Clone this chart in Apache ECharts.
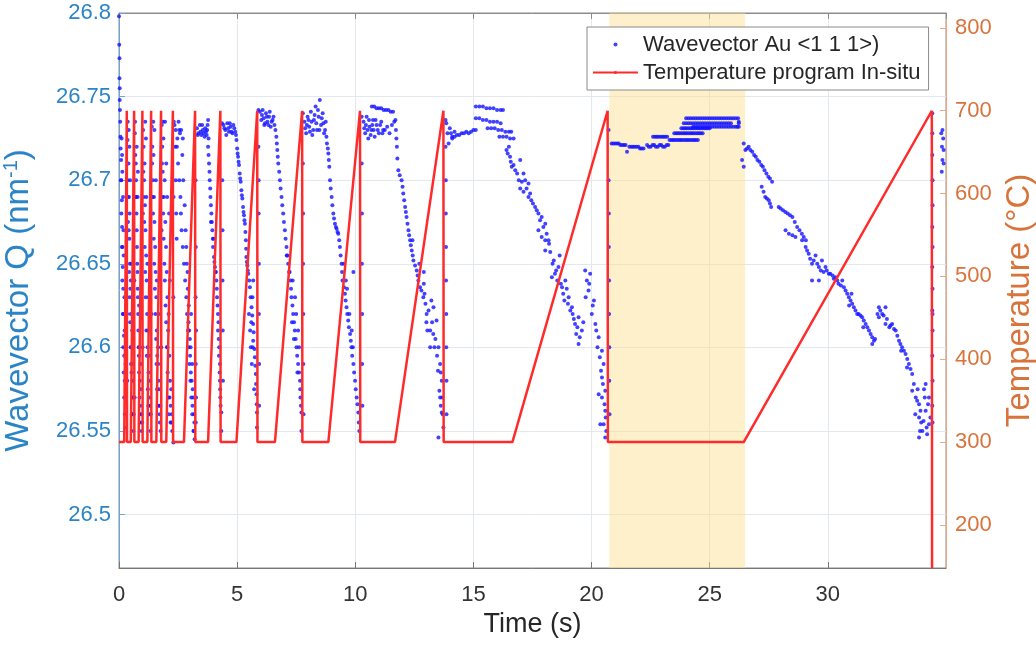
<!DOCTYPE html>
<html><head><meta charset="utf-8">
<script src="https://cdn.jsdelivr.net/npm/echarts@6/dist/echarts.min.js"></script>
<style>html,body{margin:0;padding:0;background:#fff}#c{width:1036px;height:645px}</style>
</head><body><div id="c"></div>
<script>
// ---------- tick labels ----------
const qTicks = [26.5, 26.55, 26.6, 26.65, 26.7, 26.75, 26.8];
const tempTicks = [200, 300, 400, 500, 600, 700, 800];
const shadeRange = [20.75, 26.5];

// ---------- temperature program (time s, °C) ----------
const tempTime = [0,0.22,0.33, 0.34,0.5,0.64, 0.65,0.83,0.99, 1.0,1.2,1.36, 1.37,1.58,1.78, 1.79,2.0,2.28,
  2.29,2.75,3.22, 3.23,3.77,4.29, 4.30,4.97,5.85, 5.86,6.6,7.75, 7.76,8.86,10.2, 10.21,11.68,13.73,
  13.74,16.65,20.68, 20.69,26.44,34.4, 34.41];
const tempValue = [300,300,700, 300,300,700, 300,300,700, 300,300,700, 300,300,700, 300,300,700,
  300,300,700, 300,300,700, 300,300,700, 300,300,700, 300,300,700, 300,300,700,
  300,300,700, 300,300,700, 148];

// ---------- wavevector Q points [time s, Q nm^-1] read per heating cycle ----------
const qCycleA = [[0.00,26.798],[0.01,26.781],[0.02,26.773],[0.02,26.761],[0.03,26.755],[0.03,26.748],[0.04,26.742],[0.05,26.735],[0.06,26.726],[0.07,26.719],[0.09,26.712],[0.10,26.700],[0.12,26.688],[0.13,26.672],[0.15,26.660],[0.16,26.648],[0.18,26.635],[0.19,26.620],[0.21,26.607],[0.22,26.595],[0.24,26.580],[0.26,26.570],[0.28,26.560],[0.30,26.552],[0.11,26.725],[0.17,26.690],[0.23,26.630],[0.27,26.600],[0.20,26.655],[0.14,26.705],
  [0.08,26.700],[0.10,26.680],[0.12,26.660],[0.14,26.640],[0.16,26.620],[0.18,26.600],[0.20,26.585],[0.22,26.570],[0.25,26.560],[0.29,26.575],[0.13,26.715],[0.19,26.670],[0.24,26.610],[0.28,26.590]];
const qCycleB = [[0.34,26.620],[0.35,26.580],[0.36,26.724],[0.37,26.700],[0.38,26.675],[0.40,26.710],[0.42,26.690],[0.44,26.665],[0.45,26.680],[0.46,26.650],[0.48,26.635],[0.50,26.620],[0.50,26.640],[0.52,26.600],[0.53,26.585],[0.55,26.570],[0.57,26.580],[0.59,26.560],[0.61,26.550],[0.56,26.610],[0.41,26.730],[0.47,26.700],
  [0.37,26.735],[0.39,26.690],[0.41,26.670],[0.43,26.645],[0.45,26.630],[0.47,26.615],[0.49,26.600],[0.51,26.590],[0.54,26.560],[0.58,26.590],[0.60,26.570],[0.62,26.560],[0.44,26.720],[0.52,26.650]];
const qCycleC = [[0.65,26.640],[0.66,26.570],[0.67,26.728],[0.69,26.715],[0.70,26.690],[0.72,26.700],[0.74,26.680],[0.75,26.720],[0.76,26.660],[0.78,26.645],[0.80,26.630],[0.82,26.610],[0.84,26.595],[0.85,26.625],[0.86,26.600],[0.88,26.580],[0.90,26.565],[0.93,26.555],[0.96,26.550],[0.79,26.690],[0.91,26.590],
  [0.68,26.735],[0.71,26.710],[0.73,26.690],[0.75,26.670],[0.77,26.650],[0.79,26.635],[0.81,26.620],[0.83,26.600],[0.85,26.585],[0.87,26.570],[0.89,26.560],[0.92,26.575],[0.95,26.560],[0.98,26.555],[0.80,26.705]];
const qCycleD = [[1.00,26.600],[1.01,26.680],[1.02,26.730],[1.04,26.720],[1.06,26.700],[1.08,26.710],[1.10,26.685],[1.12,26.670],[1.14,26.725],[1.15,26.655],[1.17,26.640],[1.19,26.620],[1.20,26.650],[1.21,26.600],[1.23,26.610],[1.25,26.585],[1.28,26.570],[1.30,26.560],[1.33,26.550],[1.26,26.630],[1.11,26.735],
  [1.03,26.705],[1.05,26.690],[1.07,26.675],[1.09,26.660],[1.11,26.645],[1.13,26.630],[1.16,26.610],[1.18,26.595],[1.22,26.575],[1.24,26.565],[1.27,26.595],[1.29,26.580],[1.31,26.565],[1.34,26.560],[1.16,26.690]];
const qCycleE = [[1.37,26.620],[1.38,26.690],[1.39,26.732],[1.41,26.720],[1.43,26.700],[1.46,26.715],[1.48,26.690],[1.50,26.675],[1.50,26.730],[1.53,26.660],[1.55,26.645],[1.58,26.630],[1.60,26.610],[1.60,26.640],[1.62,26.595],[1.65,26.600],[1.67,26.580],[1.70,26.565],[1.73,26.555],[1.76,26.550],[1.56,26.700],[1.68,26.620],
  [1.40,26.710],[1.42,26.690],[1.44,26.680],[1.47,26.665],[1.49,26.650],[1.52,26.635],[1.54,26.620],[1.57,26.605],[1.59,26.590],[1.61,26.575],[1.64,26.565],[1.66,26.590],[1.69,26.575],[1.72,26.560],[1.75,26.565],[1.45,26.735]];
const qCycleF = [[1.79,26.600],[1.80,26.670],[1.81,26.733],[1.83,26.720],[1.85,26.705],[1.88,26.725],[1.90,26.690],[1.93,26.700],[1.95,26.735],[1.96,26.675],[1.99,26.660],[2.02,26.645],[2.05,26.630],[2.05,26.600],[2.08,26.610],[2.10,26.620],[2.13,26.595],[2.15,26.640],[2.16,26.580],[2.19,26.565],[2.22,26.555],[2.25,26.550],[2.00,26.710],[2.12,26.680],
  [1.82,26.710],[1.84,26.690],[1.87,26.680],[1.89,26.665],[1.92,26.650],[1.94,26.640],[1.97,26.625],[2.00,26.615],[2.03,26.600],[2.06,26.585],[2.09,26.570],[2.11,26.560],[2.14,26.570],[2.18,26.555],[2.21,26.575],[2.24,26.560],[1.86,26.735],[2.04,26.690]];
const qCycleG = [[2.30,26.543],[2.30,26.630],[2.31,26.690],[2.32,26.735],[2.35,26.733],[2.38,26.720],[2.40,26.730],[2.40,26.700],[2.42,26.680],[2.44,26.665],[2.45,26.720],[2.50,26.710],[2.55,26.700],[2.60,26.690],[2.62,26.680],[2.65,26.670],[2.70,26.660],[2.75,26.650],[2.80,26.640],[2.85,26.630],[2.85,26.660],[2.88,26.620],[2.90,26.645],[2.92,26.610],[2.95,26.600],[2.95,26.625],[2.98,26.590],[3.00,26.605],[3.02,26.580],[3.05,26.620],[3.06,26.570],[3.10,26.560],[3.10,26.590],[3.12,26.575],[3.15,26.550],[3.18,26.560],[3.20,26.545],[2.55,26.730],[2.70,26.725],
  [2.47,26.725],[2.52,26.735],[2.58,26.728],[2.63,26.730],[2.68,26.715],[2.72,26.700],[2.78,26.685],[2.82,26.670],[2.87,26.650],[2.91,26.635],[2.94,26.615],[2.97,26.610],[3.01,26.595],[3.04,26.585],[3.08,26.580],[3.11,26.565],[3.14,26.570],[3.17,26.550],[3.19,26.555],[3.03,26.600]];
const qCycleH = [[3.24,26.700],[3.25,26.660],[3.24,26.630],[3.26,26.610],[3.25,26.590],[3.26,26.570],[3.25,26.555],[3.30,26.731],[3.36,26.728],[3.42,26.733],[3.48,26.727],[3.55,26.730],[3.62,26.726],[3.68,26.729],[3.73,26.730],[3.77,26.736],[3.77,26.720],[3.81,26.710],[3.84,26.700],[3.87,26.690],[3.91,26.680],[3.95,26.670],[3.98,26.660],[4.02,26.654],[4.06,26.648],[4.12,26.640],[4.15,26.630],[4.19,26.620],[4.19,26.610],[4.24,26.600],[4.27,26.590],[4.27,26.580],[4.29,26.570],[3.79,26.715],[3.89,26.685],[4.00,26.665],[4.10,26.645],[4.22,26.605],
  [3.75,26.733],[3.79,26.725],[3.83,26.705],[3.86,26.695],[3.89,26.675],[3.93,26.675],[3.97,26.665],[4.04,26.651],[4.08,26.645],[4.14,26.635],[4.17,26.625],[4.21,26.615],[4.23,26.595],[4.26,26.585],[4.28,26.575],[4.30,26.565],[3.33,26.727],[3.45,26.729],[3.52,26.733],[3.58,26.728],[3.65,26.731],[3.71,26.727]];
const qCycleI = [[4.33,26.561],[4.33,26.550],[4.36,26.734],[4.37,26.700],[4.38,26.670],[4.38,26.640],[4.39,26.610],[4.40,26.580],[4.42,26.733],[4.50,26.730],[4.58,26.734],[4.65,26.729],[4.72,26.732],[4.80,26.728],[4.88,26.731],[4.95,26.727],[4.97,26.724],[5.00,26.719],[5.04,26.714],[5.08,26.709],[5.11,26.704],[5.15,26.699],[5.18,26.694],[5.22,26.689],[5.25,26.684],[5.29,26.679],[5.33,26.674],[5.37,26.664],[5.39,26.654],[5.43,26.649],[5.47,26.644],[5.54,26.636],[5.61,26.624],[5.68,26.614],[5.68,26.604],[5.75,26.594],[5.79,26.584],[5.82,26.572],[5.84,26.561],[5.84,26.552],[5.50,26.620],[5.58,26.600],[5.62,26.590],[5.65,26.630],[5.72,26.575],[5.55,26.610],[5.68,26.640],
  [4.46,26.731],[4.54,26.727],[4.62,26.731],[4.69,26.734],[4.76,26.729],[4.84,26.733],[4.92,26.729],[5.02,26.716],[5.06,26.711],[5.13,26.701],[5.20,26.691],[5.27,26.681],[5.31,26.676],[5.35,26.669],[5.38,26.659],[5.41,26.651],[5.45,26.646],[5.51,26.640],[5.57,26.630],[5.64,26.619],[5.70,26.609],[5.73,26.599],[5.77,26.589],[5.80,26.578],[5.83,26.566],[5.60,26.615],[5.66,26.600]];
const qCycleJ = [[5.90,26.742],[5.90,26.720],[5.91,26.700],[5.91,26.680],[5.92,26.650],[5.92,26.620],[5.93,26.590],[5.93,26.565],[5.96,26.741],[6.02,26.736],[6.08,26.742],[6.15,26.733],[6.22,26.740],[6.28,26.735],[6.35,26.738],[6.42,26.732],[6.50,26.736],[6.58,26.733],[6.66,26.726],[6.70,26.718],[6.74,26.710],[6.81,26.700],[6.88,26.690],[6.95,26.680],[7.02,26.670],[7.09,26.660],[7.16,26.650],[7.26,26.640],[7.30,26.630],[7.37,26.620],[7.44,26.610],[7.51,26.600],[7.58,26.590],[7.66,26.580],[7.68,26.570],[7.72,26.561],[7.72,26.550],[7.20,26.645],[7.32,26.615],[7.40,26.605],[7.45,26.630],[7.55,26.585],[7.62,26.600],[7.10,26.655],
  [6.05,26.739],[6.12,26.737],[6.18,26.734],[6.25,26.738],[6.32,26.733],[6.38,26.741],[6.46,26.735],[6.54,26.738],[6.62,26.730],[6.68,26.722],[6.72,26.714],[6.78,26.705],[6.84,26.695],[6.91,26.685],[6.98,26.675],[7.05,26.665],[7.12,26.655],[7.22,26.645],[7.28,26.635],[7.34,26.625],[7.41,26.615],[7.48,26.605],[7.54,26.595],[7.62,26.585],[7.67,26.575],[7.70,26.565],[7.35,26.640],[7.50,26.620],[7.58,26.610]];
const qCycleK = [[7.78,26.740],[7.78,26.710],[7.79,26.680],[7.79,26.650],[7.80,26.620],[7.80,26.590],[7.81,26.560],[7.85,26.735],[7.92,26.728],[7.98,26.738],[8.05,26.732],[8.12,26.741],[8.18,26.727],[8.25,26.736],[8.32,26.744],[8.38,26.730],[8.45,26.738],[8.50,26.748],[8.55,26.733],[8.62,26.740],[8.68,26.728],[8.75,26.735],[8.80,26.722],[8.86,26.716],[8.90,26.708],[8.93,26.700],[9.00,26.690],[9.07,26.680],[9.14,26.674],[9.21,26.671],[9.28,26.668],[9.35,26.660],[9.42,26.650],[9.46,26.640],[9.50,26.650],[9.56,26.632],[9.60,26.640],[9.63,26.624],[9.70,26.616],[9.75,26.620],[9.78,26.608],[9.84,26.600],[9.90,26.600],[9.92,26.590],[9.92,26.645],[9.99,26.580],[10.06,26.570],[10.13,26.561],[10.17,26.550],
  [7.88,26.731],[7.95,26.733],[8.02,26.736],[8.08,26.729],[8.15,26.735],[8.22,26.730],[8.28,26.739],[8.35,26.734],[8.42,26.742],[8.48,26.730],[8.58,26.737],[8.65,26.734],[8.72,26.730],[8.78,26.726],[8.84,26.719],[8.88,26.712],[8.96,26.695],[9.03,26.685],[9.10,26.677],[9.18,26.672],[9.25,26.669],[9.32,26.664],[9.38,26.655],[9.44,26.645],[9.52,26.636],[9.59,26.628],[9.66,26.620],[9.73,26.612],[9.81,26.604],[9.87,26.595],[9.95,26.585],[10.02,26.575],[10.09,26.566],[10.15,26.555],[9.65,26.635],[9.85,26.610]];
const qCycleL = [[10.27,26.738],[10.27,26.710],[10.28,26.680],[10.28,26.650],[10.29,26.620],[10.29,26.590],[10.30,26.565],[10.35,26.735],[10.42,26.728],[10.48,26.738],[10.55,26.725],[10.60,26.732],[10.68,26.730],[10.75,26.736],[10.82,26.726],[10.90,26.733],[11.00,26.728],[11.10,26.735],[11.18,26.730],[10.70,26.744],[10.80,26.744],[10.90,26.743],[11.00,26.743],[11.10,26.743],[11.20,26.742],[11.30,26.742],[11.40,26.742],[11.50,26.741],[11.60,26.741],[11.70,26.736],[11.72,26.730],[11.74,26.725],[11.76,26.720],[11.82,26.706],[11.96,26.700],[12.03,26.692],[12.11,26.684],[12.17,26.678],[12.25,26.670],[12.32,26.664],[12.39,26.658],[12.42,26.664],[12.46,26.652],[12.60,26.646],[12.67,26.640],[12.71,26.650],[12.74,26.636],[12.88,26.630],[12.90,26.645],[12.90,26.638],[12.97,26.626],[13.01,26.615],[13.02,26.620],[13.17,26.610],[13.17,26.600],[13.22,26.628],[13.31,26.624],[13.39,26.605],[13.44,26.616],[13.50,26.586],[13.52,26.600],[13.56,26.574],[13.59,26.590],[13.59,26.570],[13.62,26.565],[13.66,26.580],[13.66,26.561],[13.52,26.546],[13.73,26.552],
  [10.38,26.731],[10.45,26.733],[10.52,26.730],[10.58,26.736],[10.65,26.727],[10.72,26.733],[10.78,26.730],[10.86,26.736],[10.95,26.730],[11.05,26.733],[11.15,26.728],[11.25,26.730],[11.35,26.732],[11.45,26.728],[11.55,26.733],[11.65,26.735],[11.78,26.713],[11.88,26.703],[12.00,26.696],[12.07,26.688],[12.14,26.681],[12.21,26.674],[12.28,26.667],[12.35,26.661],[12.43,26.655],[12.53,26.649],[12.64,26.643],[12.80,26.634],[12.93,26.632],[13.05,26.610],[13.10,26.622],[13.25,26.615],[13.35,26.600],[13.46,26.595],[13.62,26.585],[13.68,26.570],[13.70,26.560],[13.30,26.608]];
const qCycleM = [[13.82,26.736],[13.82,26.720],[13.83,26.700],[13.83,26.680],[13.84,26.660],[13.84,26.640],[13.85,26.620],[13.85,26.600],[13.86,26.580],[13.86,26.560],[13.85,26.734],[13.90,26.728],[13.95,26.722],[14.00,26.731],[14.10,26.725],[14.20,26.729],[14.10,26.726],[14.30,26.727],[14.50,26.728],[14.70,26.729],[14.90,26.729],[15.10,26.730],
  [15.10,26.744],[15.25,26.744],[15.40,26.744],[15.55,26.743],[15.70,26.743],[15.85,26.743],[16.00,26.742],[16.15,26.742],[16.25,26.742],
  [15.10,26.737],[15.25,26.737],[15.40,26.736],[15.55,26.736],[15.70,26.735],[15.85,26.735],[16.00,26.735],[16.15,26.734],
  [15.60,26.731],[15.75,26.731],[15.90,26.731],[16.05,26.730],[16.20,26.730],[16.35,26.729],[16.50,26.729],[16.60,26.729],
  [16.10,26.726],[16.25,26.726],[16.40,26.726],[16.55,26.725],[16.70,26.725],
  [16.40,26.718],[16.55,26.714],[16.62,26.708],[16.77,26.706],[16.98,26.712],[17.12,26.704],[17.19,26.700],[17.33,26.698],[16.98,26.695],[17.12,26.693],[17.33,26.690],[17.45,26.688],[17.61,26.684],[17.75,26.680],[17.89,26.678],[18.04,26.674],[17.75,26.670],[17.89,26.666],[18.04,26.664],[18.18,26.664],[18.04,26.658],[18.20,26.662],[18.32,26.642],[18.40,26.652],[18.50,26.646],[18.60,26.648],[18.65,26.655],[18.70,26.638],[18.80,26.632],[18.89,26.640],[18.95,26.635],[19.00,26.626],[19.03,26.630],[19.17,26.624],[19.20,26.620],[19.30,26.614],[19.35,26.608],[19.45,26.618],[19.45,26.602],[19.59,26.610],[19.73,26.646],[19.80,26.640],[19.94,26.644],[19.87,26.634],[20.01,26.620],[20.10,26.628],[20.16,26.614],[20.30,26.606],[20.44,26.598],[20.51,26.590],[20.44,26.582],[20.58,26.574],[20.44,26.570],[20.58,26.562],[20.51,26.554],[20.58,26.546],[20.37,26.554],[20.30,26.572],
  [16.45,26.716],[16.50,26.720],[16.58,26.711],[16.70,26.709],[16.85,26.704],[16.92,26.700],[17.05,26.699],[17.25,26.695],[17.40,26.692],[17.52,26.686],[17.68,26.682],[17.82,26.676],[17.96,26.672],[18.10,26.668],[18.25,26.657],[18.35,26.650],[18.45,26.644],[18.55,26.640],[18.75,26.636],[18.85,26.628],[19.10,26.622],[19.25,26.617],[19.40,26.612],[19.50,26.606],[19.65,26.615],[19.75,26.630],[19.90,26.638],[20.05,26.625],[20.20,26.610],[20.25,26.600],[20.35,26.594],[20.40,26.586],[20.48,26.578],[20.55,26.566],[20.60,26.558],[20.62,26.550],[14.05,26.728],[14.20,26.726],[14.40,26.727],[14.60,26.728],[14.80,26.728],[15.00,26.730]];
const qCycleN = [[20.72,26.730],[20.72,26.700],[20.73,26.680],[20.73,26.660],[20.74,26.640],[20.74,26.620],[20.75,26.600],[20.75,26.580],[20.76,26.560],
  [20.85,26.722],[21.00,26.722],[21.15,26.722],[21.30,26.721],[21.44,26.721],
  [21.50,26.717],[21.60,26.720],[21.75,26.720],[21.90,26.720],[22.05,26.719],[22.20,26.719],
  [22.35,26.721],[22.50,26.720],[22.65,26.721],[22.80,26.720],[22.95,26.721],[23.10,26.720],[23.25,26.721],
  [22.60,26.726],[22.75,26.726],[22.90,26.726],[23.05,26.726],[23.20,26.726],
  [23.30,26.724],[23.45,26.724],[23.60,26.724],[23.75,26.724],[23.90,26.724],[24.05,26.724],[24.20,26.724],[24.35,26.724],[24.50,26.724],
  [23.50,26.728],[23.65,26.728],[23.80,26.728],[23.95,26.728],[24.10,26.728],[24.25,26.728],[24.40,26.728],[24.55,26.728],[24.70,26.728],
  [23.80,26.731],[23.95,26.731],[24.10,26.731],[24.25,26.731],[24.40,26.731],[24.55,26.731],[24.70,26.731],[24.85,26.731],[25.00,26.731],
  [23.90,26.734],[24.10,26.734],[24.30,26.734],[24.50,26.734],[24.70,26.734],[24.90,26.734],[25.10,26.734],[25.30,26.734],[25.50,26.734],[25.70,26.734],[25.90,26.734],
  [24.00,26.737],[24.20,26.737],[24.40,26.737],[24.60,26.737],[24.80,26.737],[25.00,26.737],[25.20,26.737],[25.40,26.737],[25.60,26.737],[25.80,26.737],[26.00,26.737],[26.20,26.737],
  [24.30,26.732],[24.50,26.732],[24.70,26.732],[24.90,26.732],[25.10,26.732],[25.30,26.732],[25.50,26.732],[25.70,26.732],[25.90,26.732],[26.10,26.732],[26.23,26.732],
  [26.23,26.735],[26.23,26.734],
  [20.92,26.722],[21.08,26.722],[21.22,26.721],[21.37,26.721],[21.68,26.720],[21.82,26.720],[21.98,26.720],[22.12,26.719],[22.42,26.720],[22.58,26.721],[22.72,26.720],[22.88,26.721],[23.02,26.720],[23.18,26.721],[22.68,26.726],[22.82,26.726],[22.98,26.726],[23.12,26.726],[23.38,26.724],[23.52,26.724],[23.68,26.724],[23.82,26.724],[23.98,26.724],[24.12,26.724],[24.28,26.724],[24.42,26.724],[23.58,26.728],[23.72,26.728],[23.88,26.728],[24.02,26.728],[24.18,26.728],[24.32,26.728],[24.48,26.728],[24.62,26.728],[23.88,26.731],[24.02,26.731],[24.18,26.731],[24.32,26.731],[24.48,26.731],[24.62,26.731],[24.78,26.731],[24.92,26.731],[24.00,26.734],[24.20,26.734],[24.40,26.734],[24.60,26.734],[24.80,26.734],[25.00,26.734],[25.20,26.734],[25.40,26.734],[25.60,26.734],[25.80,26.734],[24.10,26.737],[24.30,26.737],[24.50,26.737],[24.70,26.737],[24.90,26.737],[25.10,26.737],[25.30,26.737],[25.50,26.737],[25.70,26.737],[25.90,26.737],[26.10,26.737],[24.40,26.732],[24.60,26.732],[24.80,26.732],[25.00,26.732],[25.20,26.732],[25.40,26.732],[25.60,26.732],[25.80,26.732],[26.00,26.732],[26.17,26.732]];
const qCycleO = [[26.37,26.712],[26.44,26.722],[26.44,26.708],[26.51,26.718],[26.65,26.720],[26.80,26.717],[26.95,26.714],[27.10,26.711],[27.25,26.708],[27.40,26.704],[27.55,26.701],[27.64,26.699],[27.20,26.696],[27.35,26.690],[27.50,26.688],[27.60,26.684],[27.92,26.684],[28.10,26.682],[28.30,26.680],[28.50,26.678],[28.70,26.672],[28.90,26.668],[29.07,26.664],
  [28.21,26.670],[28.63,26.666],[28.91,26.664],[29.06,26.660],[29.19,26.656],[29.48,26.655],[29.33,26.650],[29.62,26.648],[29.90,26.648],[30.04,26.644],[30.33,26.642],[30.61,26.640],[29.33,26.640],[29.62,26.640],[30.75,26.634],[30.89,26.630],[31.03,26.626],[31.17,26.622],[31.45,26.618],[31.60,26.614],[31.74,26.610],[31.88,26.606],[31.88,26.602],[32.16,26.624],[32.44,26.624],[32.16,26.618],[32.44,26.614],[32.72,26.614],[32.87,26.610],[33.01,26.604],[33.14,26.600],[33.29,26.596],[33.43,26.590],[33.57,26.584],[33.57,26.574],[33.72,26.570],[33.86,26.566],[33.86,26.558],[34.00,26.550],[34.14,26.578],[34.14,26.562],[34.28,26.554],[34.28,26.570],[33.86,26.546],
  [29.75,26.652],[30.20,26.643],[30.45,26.638],[31.30,26.620],[31.00,26.632],[30.90,26.625],[31.50,26.612],[32.00,26.605],[32.30,26.620],[32.60,26.612],[33.10,26.598],[33.35,26.588],[33.70,26.560],[33.95,26.555],[34.10,26.570],[34.20,26.548],[33.80,26.575],
  [26.58,26.719],[26.72,26.718],[26.88,26.715],[27.02,26.712],[27.18,26.709],[27.32,26.706],[27.48,26.702],[27.28,26.693],[27.42,26.689],[27.55,26.686],[28.00,26.683],[28.20,26.681],[28.40,26.679],[28.60,26.675],[28.80,26.670],[28.98,26.666],[28.35,26.668],[28.50,26.667],[29.12,26.658],[29.25,26.653],[29.40,26.652],[29.55,26.650],[29.70,26.646],[29.82,26.645],[29.95,26.646],[30.10,26.644],[30.25,26.641],[30.40,26.640],[30.55,26.637],[30.68,26.636],[30.82,26.632],[30.96,26.628],[31.10,26.624],[31.24,26.620],[31.38,26.619],[31.52,26.616],[31.67,26.612],[31.81,26.608],[31.95,26.604],[32.10,26.620],[32.22,26.622],[32.36,26.619],[32.50,26.617],[32.65,26.613],[32.80,26.611],[32.94,26.607],[33.07,26.602],[33.22,26.598],[33.36,26.593],[33.50,26.587],[33.64,26.578],[33.78,26.568],[33.92,26.562],[34.05,26.556],[34.18,26.552],[34.24,26.566],[34.34,26.558],[33.90,26.550],[34.07,26.575]];
const qCycleP = [[34.42,26.728],[34.42,26.715],[34.43,26.700],[34.43,26.685],[34.42,26.672],[34.43,26.660],[34.42,26.648],[34.43,26.635],[34.42,26.622],[34.43,26.610],[34.42,26.595],[34.43,26.580],[34.80,26.728],[34.83,26.720],[34.85,26.712],[34.82,26.705],[34.88,26.725],[34.90,26.710],
  [34.42,26.740],[34.43,26.620],[34.42,26.565],[34.43,26.555],[34.85,26.730],[34.90,26.718]];

const wavevectorData = [].concat(qCycleA,qCycleB,qCycleC,qCycleD,qCycleE,qCycleF,qCycleG,qCycleH,
  qCycleI,qCycleJ,qCycleK,qCycleL,qCycleM,qCycleN,qCycleO,qCycleP);
const tempData = tempTime.map((t,i)=>[t,tempValue[i]]);

const FONT = 'Liberation Sans, Arial, Helvetica, sans-serif';
const BLUE_AX = '#2b84c6', ORANGE_AX = '#d8733b', GRID = '#e3e8ee';

const chart = echarts.init(document.getElementById('c'), null, {renderer:'canvas'});
chart.setOption({
  animation:false,
  backgroundColor:'#ffffff',
  grid:{left:119, right:90, top:13, bottom:77, show:true, borderColor:'#8c8c8c', borderWidth:1,
    containLabel:false, outerBoundsMode:'none'},
  legend:{
    orient:'vertical', left:587, top:27,
    padding:[6,8,6,5], itemGap:5, itemWidth:45, itemHeight:4,
    backgroundColor:'#ffffff', borderColor:'#8a8a8a', borderWidth:1,
    textStyle:{fontFamily:FONT, fontSize:22, color:'#262626', lineHeight:23},
    data:[{name:'Wavevector Au <1 1 1>)', icon:'circle'}, {name:'Temperature program In-situ'}]
  },
  xAxis:[{
    type:'value', min:0, max:35, interval:5, position:'bottom',
    name:'Time (s)', nameLocation:'middle', nameGap:42,
    nameTextStyle:{fontFamily:FONT, fontSize:27, color:'#262626'},
    axisLine:{onZero:false, lineStyle:{color:'#777777', width:1}},
    axisTick:{inside:true, length:6, lineStyle:{color:'#777777'}},
    axisLabel:{fontFamily:FONT, fontSize:22, color:'#333333', margin:16, showMaxLabel:false},
    splitLine:{show:true, lineStyle:{color:GRID, width:1}}
  },{
    type:'value', min:0, max:35, interval:5, position:'top',
    axisLine:{onZero:false, lineStyle:{color:'#8c8c8c', width:1}},
    axisTick:{inside:true, length:6, lineStyle:{color:'#8c8c8c'}},
    axisLabel:{show:false}, splitLine:{show:false}
  }],
  yAxis:[{
    type:'value', min:26.468, max:26.8, position:'left',
    name:'Wavevector Q (nm{sup|-1})', nameLocation:'middle', nameGap:82,
    nameTextStyle:{fontFamily:FONT, fontSize:33, color:BLUE_AX, padding:[0,20,0,0],
      rich:{sup:{fontFamily:FONT, fontSize:20, color:BLUE_AX, verticalAlign:'top', lineHeight:36}}},
    axisLine:{onZero:false, lineStyle:{color:'#6aa7d8', width:1}},
    axisTick:{inside:true, length:6, lineStyle:{color:'#6aa7d8'}, customValues:qTicks},
    axisLabel:{fontFamily:FONT, fontSize:22, color:BLUE_AX, margin:8, customValues:qTicks,
      formatter:v=>String(+(+v).toFixed(2))},
    splitLine:{show:true, lineStyle:{color:GRID, width:1}}
  },{
    type:'value', min:148, max:818, position:'right',
    name:'Temperature (°C)', nameLocation:'middle', nameGap:57,
    nameTextStyle:{fontFamily:FONT, fontSize:33, color:ORANGE_AX, padding:[0,20,0,0]},
    axisLine:{onZero:false, lineStyle:{color:'#eba882', width:1}},
    axisTick:{inside:true, length:6, lineStyle:{color:'#eba882'}, customValues:tempTicks},
    axisLabel:{fontFamily:FONT, fontSize:22, color:ORANGE_AX, margin:9, customValues:tempTicks,
      formatter:v=>String(Math.round(v))},
    splitLine:{show:false}
  }],
  series:[{
    name:'shade', type:'line', data:[], xAxisIndex:0, yAxisIndex:0, z:1, silent:true,
    markArea:{silent:true, itemStyle:{color:'rgba(250,222,140,0.45)'},
      data:[[{xAxis:shadeRange[0]},{xAxis:shadeRange[1]}]]}
  },{
    name:'Wavevector Au <1 1 1>)', type:'scatter', xAxisIndex:0, yAxisIndex:0, z:3,
    symbol:'circle', symbolSize:4, itemStyle:{color:'#1414ff'},
    data:wavevectorData
  },{
    name:'Temperature program In-situ', type:'line', xAxisIndex:0, yAxisIndex:1, z:4,
    showSymbol:false, symbol:'none', lineStyle:{color:'#ff2b2b', width:2.5},
    itemStyle:{color:'#ff2b2b'},
    data:tempData
  }]
});
</script></body></html>
